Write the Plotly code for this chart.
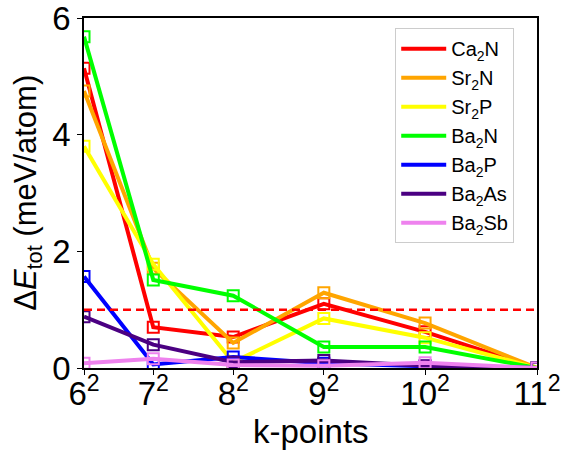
import plotly.graph_objects as go

kpoints = [36, 49, 64, 81, 100, 121]
tick_labels = ["6<sup>2</sup>", "7<sup>2</sup>", "8<sup>2</sup>", "9<sup>2</sup>", "10<sup>2</sup>", "11<sup>2</sup>"]

names = ["Ca<sub>2</sub>N", "Sr<sub>2</sub>N", "Sr<sub>2</sub>P", "Ba<sub>2</sub>N",
         "Ba<sub>2</sub>P", "Ba<sub>2</sub>As", "Ba<sub>2</sub>Sb"]
colors = ["#ff0000", "#ffa500", "#ffff00", "#00ff00", "#0000ff", "#4b0082", "#ee82ee"]

ca2n = [5.14, 0.70, 0.53, 1.10, 0.62, 0.0]
sr2n = [4.75, 1.71, 0.43, 1.29, 0.77, 0.0]
sr2p = [3.80, 1.78, 0.10, 0.85, 0.52, 0.0]
ba2n = [5.68, 1.51, 1.24, 0.36, 0.36, 0.0]
ba2p = [1.57, 0.06, 0.19, 0.08, 0.03, 0.0]
ba2as = [0.88, 0.40, 0.10, 0.13, 0.04, 0.0]
ba2sb = [0.08, 0.16, 0.05, 0.04, 0.09, 0.0]
series = [ca2n, sr2n, sr2p, ba2n, ba2p, ba2as, ba2sb]

threshold = 1.0
x_title = "k-points"
y_title = "Δ<i>E</i><sub>tot</sub> (meV/atom)"

fig = go.Figure()
for name, col, vals in zip(names, colors, series):
    fig.add_trace(go.Scatter(x=kpoints, y=vals, mode="lines", name=name,
                             legendgroup=name,
                             line=dict(color=col, width=4)))
    fig.add_trace(go.Scatter(x=kpoints, y=vals, mode="markers", name=name,
                             legendgroup=name, showlegend=False,
                             marker=dict(symbol="square-open", size=11,
                                         color=col, line=dict(color=col, width=2))))

fig.add_shape(type="line", xref="paper", yref="y", x0=0, x1=1, y0=threshold, y1=threshold,
              line=dict(color="#ff0000", width=2.5, dash="8px,5px"), layer="above")

font_family = "Liberation Sans, Arial, sans-serif"

fig.add_annotation(text=x_title, xref="paper", yref="paper", x=0.5, y=-0.18,
                   xanchor="center", yanchor="middle", showarrow=False,
                   font=dict(size=33, family=font_family, color="black"))
fig.add_annotation(text=y_title, xref="paper", yref="paper", x=-0.124, y=0.5,
                   xanchor="center", yanchor="middle", showarrow=False, textangle=-90,
                   font=dict(size=31, family=font_family, color="black"))

fig.update_layout(
    width=566, height=455,
    margin=dict(l=84, r=29, t=18, b=87),
    plot_bgcolor="white", paper_bgcolor="white",
    font=dict(family=font_family, color="black"),
    showlegend=True,
    legend=dict(x=0.687, y=0.971, xanchor="left", yanchor="top",
                bgcolor="white", bordercolor="#cccccc", borderwidth=1,
                font=dict(size=20, family=font_family),
                itemwidth=45, tracegroupgap=0),
    xaxis=dict(range=[36, 121], tickmode="array", tickvals=kpoints, ticktext=tick_labels,
               showgrid=False, zeroline=False, showline=True, linecolor="black", linewidth=1.5,
               mirror=True, ticks="outside", ticklen=5, tickwidth=1.2, tickcolor="black",
               tickfont=dict(size=33), automargin=False, ticklabeloverflow="allow",
               ticklabelstandoff=-9),
    yaxis=dict(range=[0, 6], tickvals=[0, 2, 4, 6],
               showgrid=False, zeroline=False, showline=True, linecolor="black", linewidth=1.5,
               mirror=True, ticks="outside", ticklen=5, tickwidth=1.2, tickcolor="black",
               tickfont=dict(size=33), automargin=False, ticklabeloverflow="allow"),
)

fig.write_html("out.html", config={"displayModeBar": False},
               post_script="document.body.style.margin='0';document.body.style.padding='0';")
